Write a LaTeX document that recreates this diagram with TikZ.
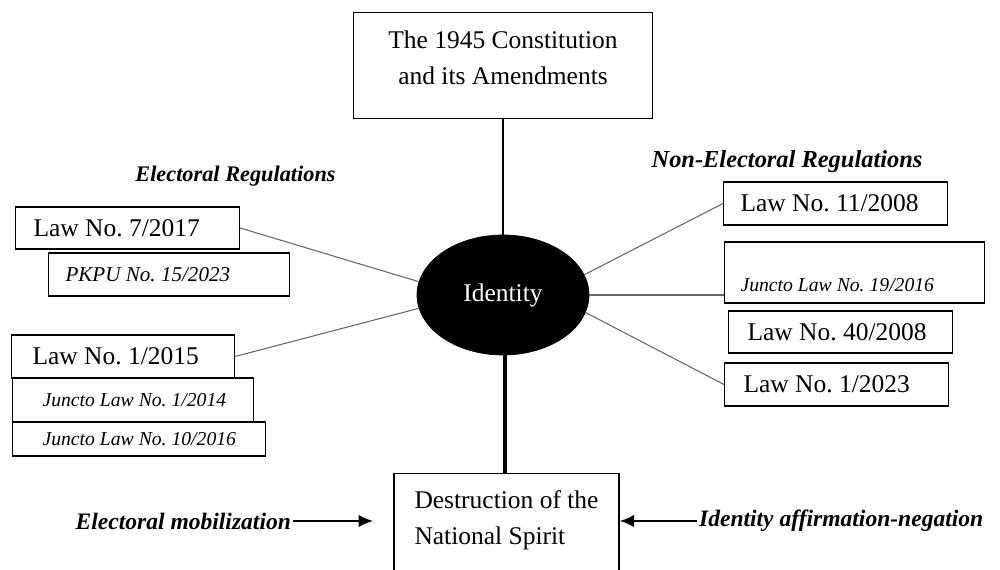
\documentclass[tikz,border=0pt]{standalone}
\usepackage{fontspec}
\setmainfont{Liberation Serif}
\usetikzlibrary{shapes.geometric,arrows.meta}
\frenchspacing

\begin{document}
\begin{tikzpicture}[
  mainbox/.style={rectangle, draw, line width=0.8pt, anchor=north, font=\fontsize{14.5pt}{20.5pt}\selectfont},
  regbox/.style={rectangle, draw, line width=0.6pt, anchor=west, inner ysep=0pt, font=\fontsize{14.5pt}{17pt}\selectfont},
  juncto/.style={regbox, font=\fontsize{11.2pt}{13pt}\selectfont\itshape},
  group/.style={font=\fontsize{12.7pt}{15pt}\selectfont\bfseries\itshape},
  force/.style={font=\fontsize{13.4pt}{16pt}\selectfont\bfseries\itshape, inner sep=1pt},
  spoke/.style={draw=black!60, line width=0.6pt},
  pointer/.style={-{Latex[length=2.9mm, width=2.5mm]}, line width=1pt},
  ]
 \useasboundingbox (0,0) rectangle (20,11.4);
 \clip (0,0) rectangle (20,11.4);

 % centre of the picture
 \node [mainbox, align=center, minimum width=5.98cm, inner ysep=0.36cm, text depth=0.32cm] (const) at (10.06,11.16) {The 1945 Constitution\\and its Amendments};
 \node [ellipse, fill=black, draw=black, minimum width=3.44cm, minimum height=2.4cm, inner sep=0pt, text=white, font=\fontsize{14.5pt}{17pt}\selectfont] (iden) at (10.06,5.5) {Identity};
 \node [mainbox, align=left, minimum width=4.5cm, inner ysep=0.34cm, text depth=2cm] (dest) at (10.13,1.94) {Destruction of the\\National Spirit};

 % electoral side
 \node [group] (elreg) at (4.71,7.88) {Electoral Regulations};
 \node [regbox, inner xsep=0.36cm, minimum height=0.84cm] (l7) at (0.30,6.84) {\makebox[3.76cm][l]{Law No. 7/2017}};
 \node [regbox, inner xsep=0.34cm, minimum height=0.86cm, font=\fontsize{12pt}{14pt}\selectfont\itshape] (pkpu) at (0.96,5.91) {\makebox[4.14cm][l]{PKPU No. 15/2023}};
 \node [regbox, inner xsep=0.42cm, minimum height=0.86cm] (l1) at (0.22,4.27) {\makebox[3.62cm][l]{Law No. 1/2015}};
 \node [juncto, inner xsep=0.60cm, minimum height=0.88cm] (j1) at (0.24,3.40) {\makebox[3.62cm][l]{Juncto Law No. 1/2014}};
 \node [juncto, inner xsep=0.60cm, minimum height=0.68cm] (j10) at (0.24,2.62) {\makebox[3.86cm][l]{Juncto Law No. 10/2016}};

 % non-electoral side
 \node [group, font=\fontsize{13.9pt}{16pt}\selectfont\bfseries\itshape] (nonreg) at (15.74,8.16) {Non-Electoral Regulations};
 \node [regbox, inner xsep=0.34cm, minimum height=0.86cm] (l11) at (14.46,7.33) {\makebox[3.80cm][l]{Law No. 11/2008}};
 \node [juncto, inner xsep=0.32cm, text height=1.0cm, text depth=0.22cm] (j19) at (14.48,5.95) {\makebox[4.56cm][l]{Juncto Law No. 19/2016}};
 \node [regbox, inner xsep=0.38cm, minimum height=0.84cm] (l40) at (14.56,4.76) {\makebox[3.72cm][l]{Law No. 40/2008}};
 \node [regbox, inner xsep=0.38cm, minimum height=0.86cm] (l23) at (14.48,3.71) {\makebox[3.72cm][l]{Law No. 1/2023}};

 % forces on the bottom box
 \node [force, anchor=east] (mob) at (5.86,0.98) {Electoral mobilization};
 \node [force, anchor=west] (aff) at (13.94,0.98) {Identity affirmation-negation};
 \coordinate (mobtip) at (7.46,0.98);

 \draw [line width=1.6pt] (const.south -| iden.north) -- (iden.north);
 \draw [line width=2.2pt] ([xshift=0.04cm]iden.south) -- ([xshift=0.04cm]iden.south |- dest.north);
 \draw [spoke] (l7.east) -- (iden.171);
 \draw [spoke] (l1.east) -- (iden.189);
 \draw [spoke] (l11.west) -- (iden.14);
 \draw [spoke] (iden.east) -- (iden.east -| j19.west);
 \draw [spoke] (iden.-12) -- (l23.west);
 \draw [pointer] (mob.east) -- (mobtip);
 \draw [pointer] (aff.west) -- (aff.west -| dest.east);
  \end{tikzpicture}
\end{document}
